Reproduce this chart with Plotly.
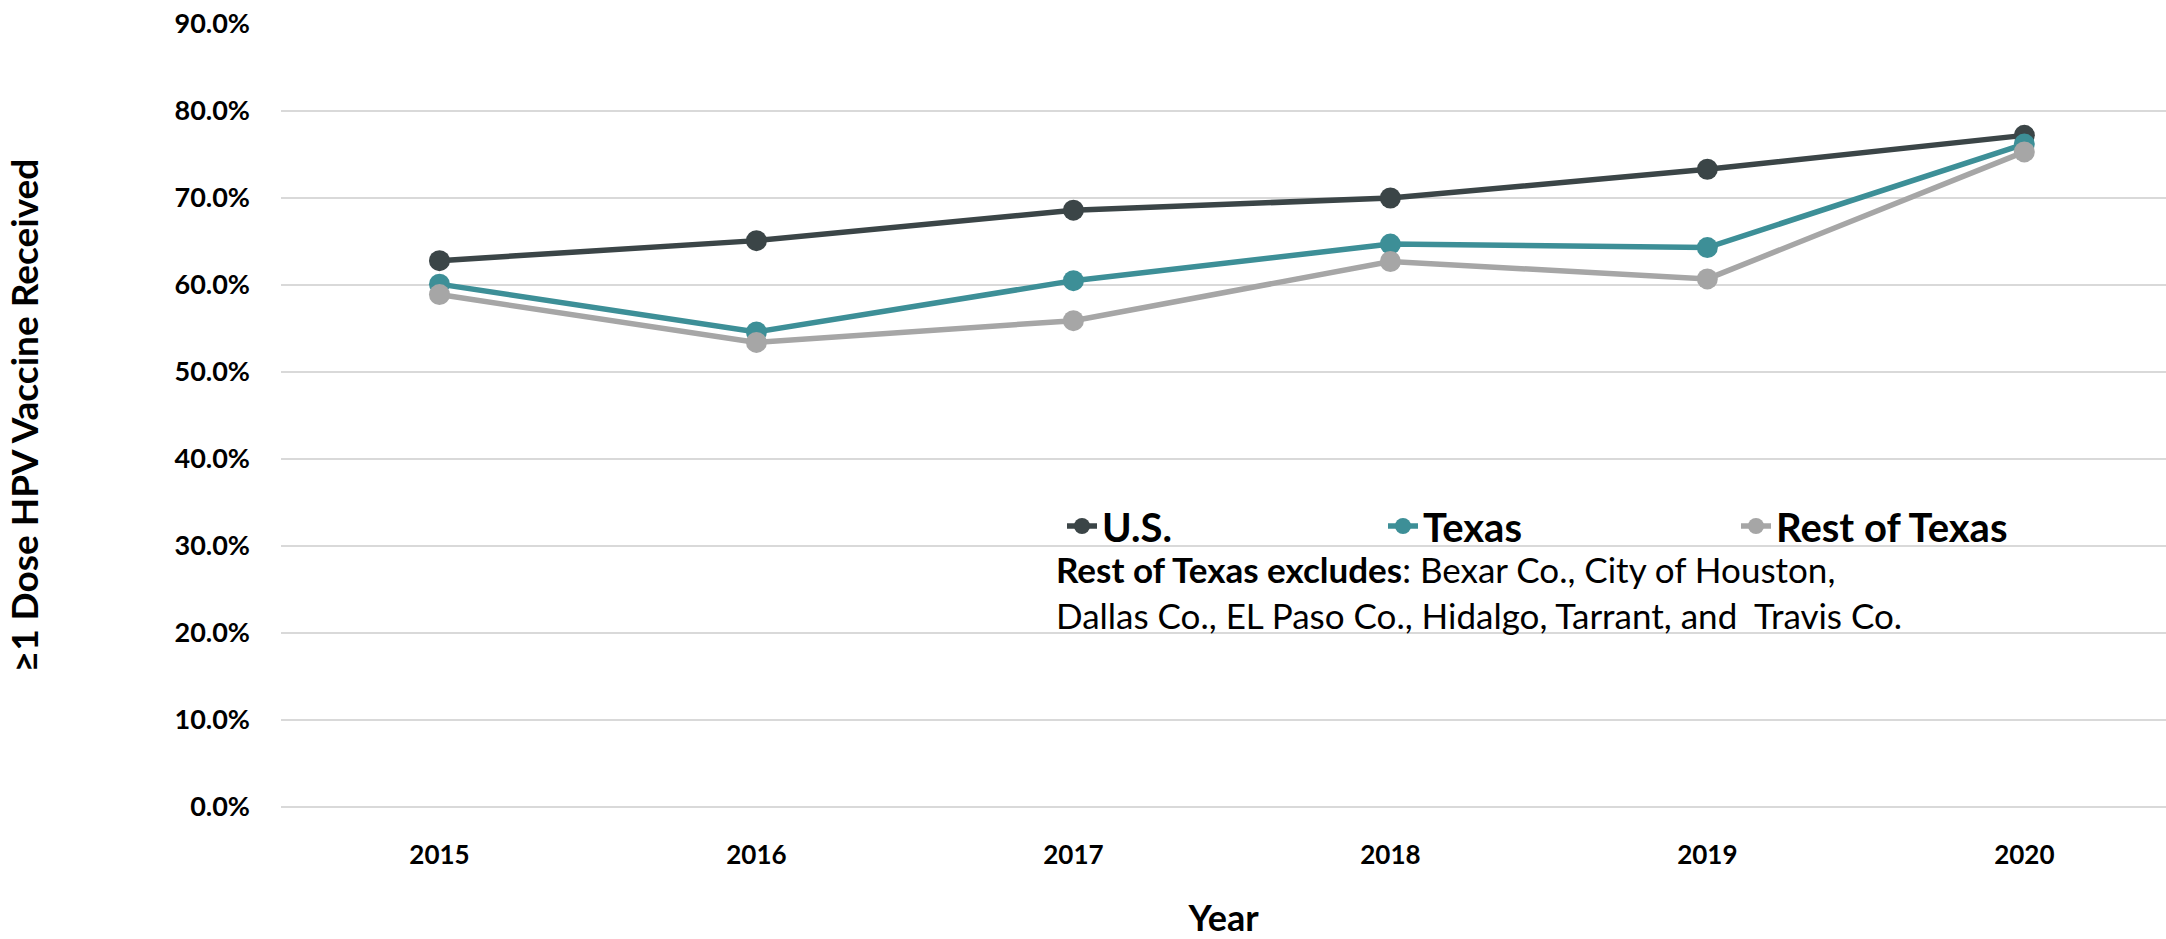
import plotly.graph_objects as go

years = ["2015", "2016", "2017", "2018", "2019", "2020"]
us_values = [62.8, 65.1, 68.6, 70.0, 73.3, 77.2]
texas_values = [60.1, 54.6, 60.5, 64.7, 64.3, 76.2]
rest_values = [58.9, 53.4, 55.9, 62.7, 60.7, 75.3]
series_names = ["U.S.", "Texas", "Rest of Texas"]
y_ticks = [0, 10, 20, 30, 40, 50, 60, 70, 80, 90]
y_tick_labels = [f"{v:.1f}%" for v in y_ticks]

colors = ["#3b4547", "#3d8f97", "#a6a6a6"]
FONT = "Lato, 'Open Sans', sans-serif"

fig = go.Figure()
legend_ids = ["legend", "legend2", "legend3"]
for name, vals, col, lg in zip(series_names, [us_values, texas_values, rest_values], colors, legend_ids):
    fig.add_trace(go.Scatter(
        x=years, y=vals, name=name, mode="lines+markers",
        line=dict(color=col, width=5.5),
        marker=dict(color=col, size=21),
        legend=lg, showlegend=True,
    ))

W, H = 2166, 939
L, R, T, B = 281, 0, 24, 132
pw = W - L - R
ph = H - T - B

def px_x(p):
    return (p - L) / pw

def px_y(p):
    return (H - B - p) / ph

legend_font = dict(family=FONT, size=40, color="#000000", weight="bold")
leg_common = dict(orientation="h", xanchor="left", yanchor="middle",
                  bgcolor="rgba(0,0,0,0)", font=legend_font, itemclick=False)

fig.update_layout(
    width=W, height=H,
    showlegend=True,
    margin=dict(l=L, r=R, t=T, b=B, autoexpand=False),
    plot_bgcolor="white", paper_bgcolor="white",
    font=dict(family=FONT, color="#000000"),
    legend=dict(x=px_x(1062), y=px_y(526), **leg_common),
    legend2=dict(x=px_x(1383), y=px_y(526), **leg_common),
    legend3=dict(x=px_x(1736), y=px_y(526), **leg_common),
    xaxis=dict(
        type="category", range=[-0.5, 5.447],
        showgrid=False, showline=False, zeroline=False, ticks="",
        tickfont=dict(family=FONT, size=26, weight="bold", color="#000000"),
        ticklabelstandoff=30,
        title=dict(text="Year", font=dict(family=FONT, size=36, weight="bold", color="#000000"), standoff=49),
        automargin=False,
    ),
    yaxis=dict(
        range=[0, 90], tickvals=y_ticks, ticktext=y_tick_labels,
        showgrid=True, gridcolor="#d9d9d9", gridwidth=2,
        zeroline=True, zerolinecolor="#d9d9d9", zerolinewidth=2,
        showline=False, ticks="",
        tickfont=dict(family=FONT, size=27, weight="bold", color="#000000"),
        ticklabelstandoff=30,
        title=dict(text="≥1 Dose HPV Vaccine Received", font=dict(family=FONT, size=37, weight="bold", color="#000000"), standoff=124),
        automargin=False,
    ),
)

fig.add_annotation(
    xref="paper", yref="paper", x=px_x(1054), y=px_y(592), xanchor="left", yanchor="middle",
    align="left", showarrow=False,
    text="<b>Rest of Texas excludes</b>: Bexar Co., City of Houston,<br>Dallas Co., EL Paso Co., Hidalgo, Tarrant, and  Travis Co.",
    font=dict(family=FONT, size=35, color="#000000"),
)

fig.write_html("out.html", config={"displayModeBar": False},
               post_script="document.body.style.margin='0';document.body.style.overflow='hidden';")
